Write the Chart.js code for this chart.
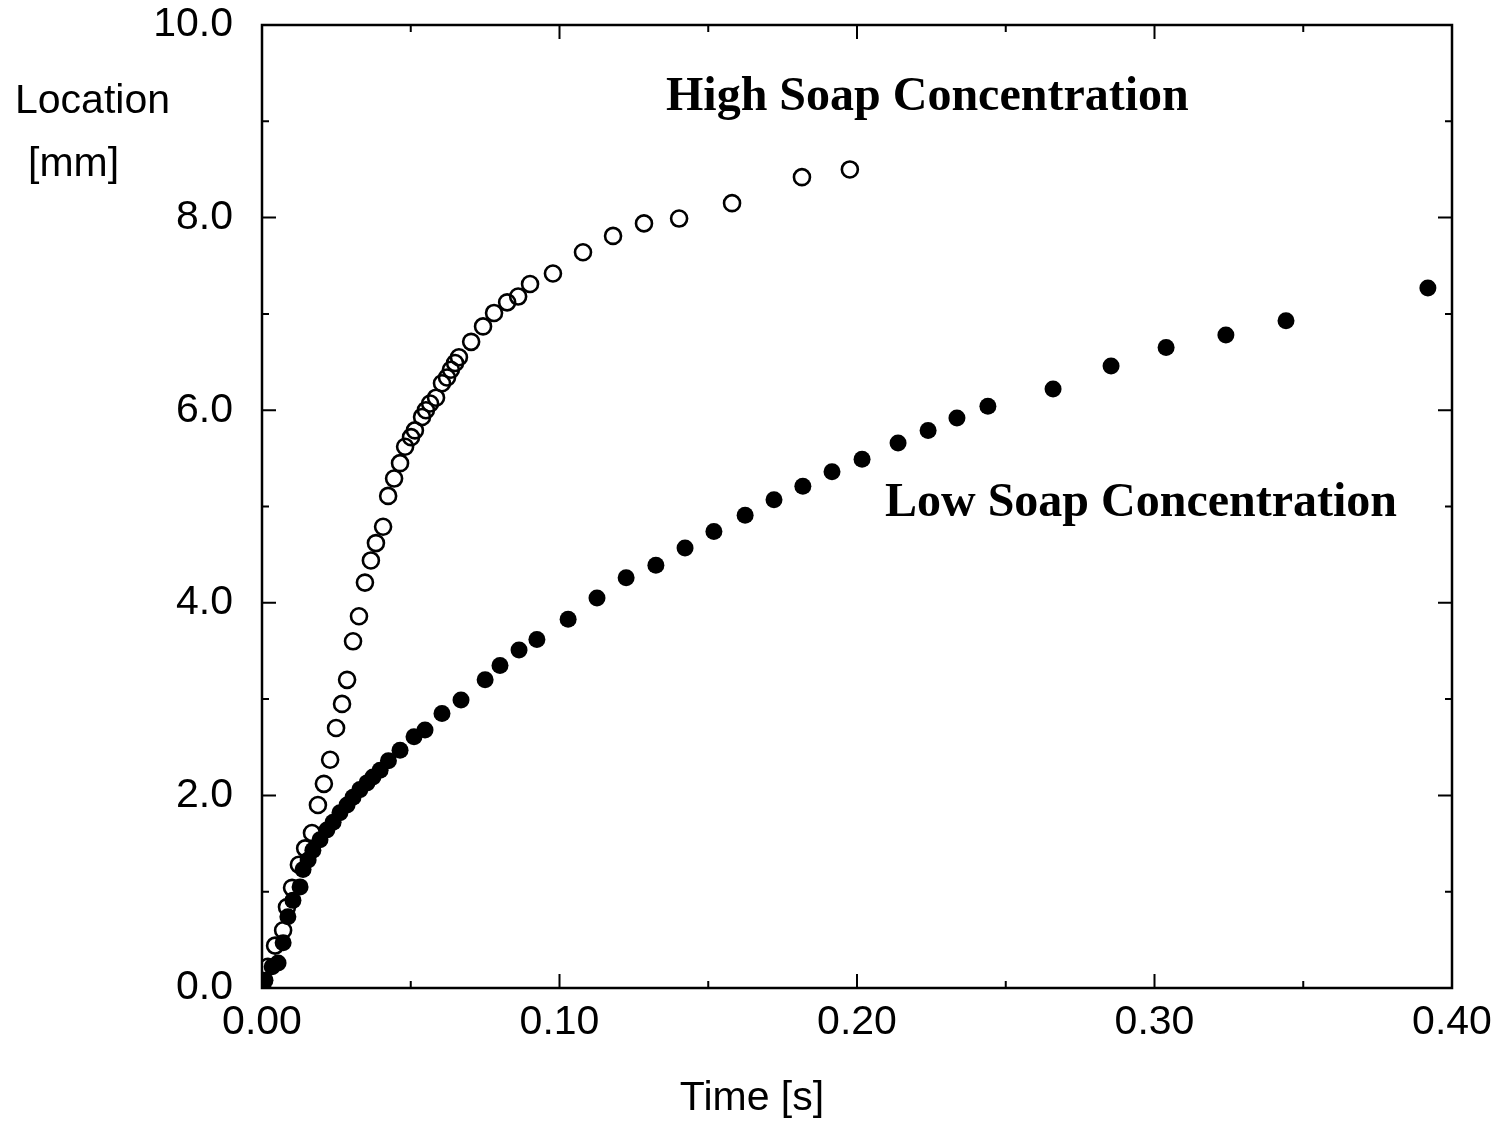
<!DOCTYPE html>
<html>
<head>
<meta charset="utf-8">
<script src="https://cdn.jsdelivr.net/npm/chart.js@4.4.0/dist/chart.umd.min.js"></script>
<style>
  html, body { margin: 0; padding: 0; background: #fff; }
  #wrap { width: 1505px; height: 1123px; position: relative; }
</style>
</head>
<body>
<div id="wrap"><canvas id="myChart"></canvas></div>
<script>
// time [s] and location [mm]
const highTime = [0.002, 0.0044, 0.0071, 0.0084, 0.0101, 0.0124, 0.0145, 0.0168, 0.0188, 0.0208,
    0.0229, 0.0249, 0.0269, 0.0286, 0.0306, 0.0326, 0.0346, 0.0366, 0.0383, 0.0407,
    0.0424, 0.0444, 0.0464, 0.0481, 0.0501, 0.0514, 0.0538, 0.0551, 0.0565, 0.0585,
    0.0605, 0.0622, 0.0635, 0.0649, 0.0662, 0.0703, 0.0743, 0.0780, 0.0824, 0.0861,
    0.0901, 0.0978, 0.1079, 0.1180, 0.1284, 0.1402, 0.1580, 0.1815, 0.1976];
const highLoc = [0.22, 0.44, 0.60, 0.84, 1.04, 1.28, 1.45, 1.61, 1.90, 2.12,
    2.37, 2.70, 2.95, 3.20, 3.60, 3.86, 4.21, 4.44, 4.62, 4.79,
    5.11, 5.29, 5.45, 5.62, 5.72, 5.79, 5.93, 6.00, 6.07, 6.13,
    6.28, 6.34, 6.42, 6.49, 6.55, 6.71, 6.87, 7.01, 7.12, 7.18,
    7.31, 7.42, 7.64, 7.81, 7.94, 7.99, 8.15, 8.42, 8.50];

const lowTime = [0.0003, 0.001, 0.0034, 0.0054, 0.0071, 0.0087, 0.0104, 0.0128, 0.0138, 0.0155,
    0.0171, 0.0195, 0.0218, 0.0239, 0.0262, 0.0286, 0.0306, 0.0329, 0.0353, 0.0373,
    0.0397, 0.0425, 0.0464, 0.0511, 0.0548, 0.0605, 0.0669, 0.075, 0.080, 0.0864,
    0.0924, 0.1029, 0.1126, 0.1224, 0.1324, 0.1422, 0.1519, 0.1624, 0.1721, 0.1818,
    0.1916, 0.2017, 0.2138, 0.2239, 0.2336, 0.244, 0.2659, 0.2854, 0.3039, 0.324,
    0.3442, 0.3919];
const lowLoc = [0.01, 0.08, 0.22, 0.26, 0.47, 0.74, 0.91, 1.05, 1.23, 1.33,
    1.43, 1.54, 1.64, 1.72, 1.82, 1.90, 1.98, 2.06, 2.13, 2.19,
    2.26, 2.36, 2.47, 2.61, 2.68, 2.85, 2.99, 3.20, 3.35, 3.51,
    3.62, 3.83, 4.05, 4.26, 4.39, 4.57, 4.74, 4.91, 5.07, 5.21,
    5.36, 5.49, 5.66, 5.79, 5.92, 6.04, 6.22, 6.46, 6.65, 6.78,
    6.93, 7.27];

const xTicks = [0.0, 0.1, 0.2, 0.3, 0.4];
const yTicks = [0, 2, 4, 6, 8, 10];
const xMinor = [0.05, 0.15, 0.25, 0.35];
const yMinor = [1, 3, 5, 7, 9];

function toPoints(xs, ys) {
    return xs.map(function (x, i) { return { x: x, y: ys[i] }; });
}

const SANS = '"Liberation Sans", Arial, sans-serif';
const SERIF = '"Liberation Serif", "Times New Roman", serif';

// frame, inward ticks and the text labels
const decor = {
    id: 'decor',
    afterDraw(chart) {
        const ctx = chart.ctx;
        const a = chart.chartArea;
        const xs = chart.scales.x, ys = chart.scales.y;
        ctx.save();
        ctx.strokeStyle = '#000';
        ctx.lineWidth = 2.5;
        ctx.strokeRect(a.left, a.top, a.right - a.left, a.bottom - a.top);

        ctx.lineWidth = 2;
        ctx.beginPath();
        function xt(v, len) {
            const px = xs.getPixelForValue(v);
            ctx.moveTo(px, a.bottom); ctx.lineTo(px, a.bottom - len);
            ctx.moveTo(px, a.top); ctx.lineTo(px, a.top + len);
        }
        function yt(v, len) {
            const py = ys.getPixelForValue(v);
            ctx.moveTo(a.left, py); ctx.lineTo(a.left + len, py);
            ctx.moveTo(a.right, py); ctx.lineTo(a.right - len, py);
        }
        xTicks.forEach(function (v) { xt(v, 14); });
        xMinor.forEach(function (v) { xt(v, 7); });
        yTicks.forEach(function (v) { yt(v, 14); });
        yMinor.forEach(function (v) { yt(v, 7); });
        ctx.stroke();

        ctx.fillStyle = '#000';
        ctx.textBaseline = 'alphabetic';
        ctx.textAlign = 'left';
        ctx.font = 'bold 48px ' + SERIF;
        ctx.fillText('High Soap Concentration', xs.getPixelForValue(0.1358), ys.getPixelForValue(9.12));
        ctx.fillText('Low Soap Concentration', xs.getPixelForValue(0.2094), ys.getPixelForValue(4.90));

        ctx.font = '41px ' + SANS;
        ctx.fillText('Location', 15, 113);
        ctx.fillText('[mm]', 28, 176);
        ctx.textAlign = 'center';
        ctx.fillText('Time [s]', 752, 1110);
        ctx.restore();
    }
};

const myChart = new Chart(document.getElementById('myChart'), {
    type: 'scatter',
    data: {
        datasets: [{
            label: 'High Soap Concentration',
            data: toPoints(highTime, highLoc),
            pointStyle: 'circle',
            pointRadius: 8,
            borderWidth: 2.6,
            borderColor: '#000',
            backgroundColor: 'rgba(255,255,255,0)'
        }, {
            label: 'Low Soap Concentration',
            data: toPoints(lowTime, lowLoc),
            pointStyle: 'circle',
            pointRadius: 8.5,
            borderWidth: 0,
            borderColor: '#000',
            backgroundColor: '#000'
        }]
    },
    plugins: [decor],
    options: {
        responsive: true,
        maintainAspectRatio: false,
        animation: false,
        layout: { padding: { left: 0, right: 53, top: 25, bottom: 0 } },
        plugins: { legend: { display: false }, tooltip: { enabled: false } },
        scales: {
            x: {
                type: 'linear',
                min: 0, max: 0.4,
                afterFit: function (s) { s.height = 135; s.paddingLeft = 0; s.paddingRight = 0; },
                afterBuildTicks: function (s) { s.ticks = xTicks.map(function (v) { return { value: v }; }); },
                grid: { display: false, drawTicks: false },
                border: { display: false },
                ticks: {
                    padding: 10,
                    color: '#000',
                    maxRotation: 0,
                    font: { family: SANS, size: 41 },
                    callback: function (v) { return v.toFixed(2); }
                }
            },
            y: {
                type: 'linear',
                min: 0, max: 10,
                afterFit: function (s) { s.width = 262; s.paddingTop = 0; s.paddingBottom = 0; },
                afterBuildTicks: function (s) { s.ticks = yTicks.map(function (v) { return { value: v }; }); },
                grid: { display: false, drawTicks: false },
                border: { display: false },
                ticks: {
                    padding: 29,
                    color: '#000',
                    font: { family: SANS, size: 41 },
                    callback: function (v) { return v.toFixed(1); }
                }
            }
        }
    }
});
</script>
</body>
</html>
